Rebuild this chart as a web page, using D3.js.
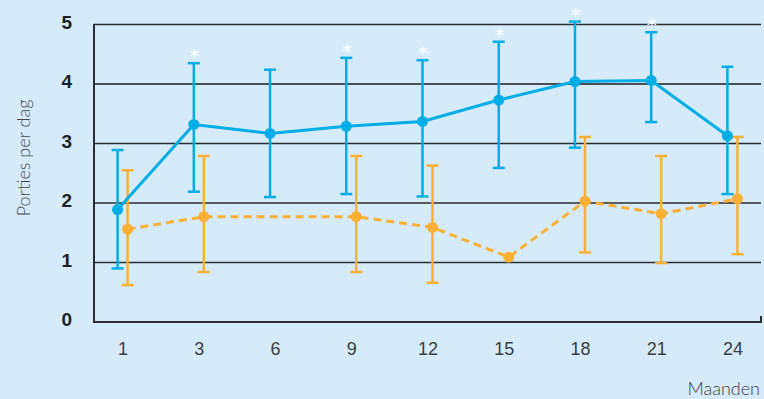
<!DOCTYPE html>
<html>
<head>
<meta charset="utf-8">
<script src="https://cdn.jsdelivr.net/npm/d3@7"></script>
<style>
  html, body { margin: 0; padding: 0; background: #d5ebf9; }
  svg { display: block; font-family: "Lato", "Open Sans", "DejaVu Sans", sans-serif; }
</style>
</head>
<body>
<svg id="chart" width="764" height="399"></svg>
<script>
// Months of follow-up
const months = ["1", "3", "6", "9", "12", "15", "18", "21", "24"];

// Blue series: mean portions per day with upper/lower bounds
const blueMean = [1.89, 3.32, 3.17, 3.29, 3.37, 3.73, 4.04, 4.06, 3.13];
const blueHigh = [2.89, 4.35, 4.24, 4.44, 4.40, 4.71, 5.05, 4.87, 4.29];
const blueLow  = [0.90, 2.19, 2.10, 2.15, 2.11, 2.59, 2.93, 3.36, 2.15];
// Significance markers above the blue bars
const blueSignif = [false, true, false, true, true, true, true, true, false];

// Orange series (no measurement at month 6; no spread at month 15)
const orangeMean = [1.56, 1.77, null, 1.77, 1.59, 1.09, 2.03, 1.82, 2.07];
const orangeHigh = [2.55, 2.79, null, 2.79, 2.63, null, 3.11, 2.79, 3.11];
const orangeLow  = [0.62, 0.84, null, 0.84, 0.66, null, 1.17, 0.99, 1.14];

const yTicks = [0, 1, 2, 3, 4, 5];

const blue = "#00ade6";
const orange = "#fbb034";

const svg = d3.select("#chart");
const plotLeft = 94, plotRight = 761, plotTop = 24.5, plotBottom = 322;

const x = d3.scalePoint().domain(months).range([plotLeft, plotRight]).padding(0.375);
const y = d3.scaleLinear().domain([0, 5]).range([plotBottom, plotTop]);

// Horizontal grid lines
svg.append("g")
  .selectAll("line")
  .data(yTicks.filter(d => d > 0))
  .join("line")
  .attr("x1", plotLeft).attr("x2", plotRight)
  .attr("y1", d => y(d)).attr("y2", d => y(d))
  .attr("stroke", d => d === 4 ? "#4a4f55" : "#2a2d31")
  .attr("stroke-width", d => d === 4 ? 2 : 1.5);

// Axes frame: left and bottom, with a small end tick on the right
svg.append("path")
  .attr("d", `M${plotLeft},${plotTop - 0.5}V${plotBottom}H${plotRight}V${plotBottom - 6}`)
  .attr("fill", "none")
  .attr("stroke", "#2a2d31")
  .attr("stroke-width", 2);

// Y tick labels
const yAxis = d3.axisLeft(y).tickValues(yTicks).tickFormat(d3.format("d"))
  .tickSize(0).tickPadding(22);
const gy = svg.append("g").attr("transform", `translate(${plotLeft},0)`).call(yAxis);
gy.select(".domain").remove();
gy.selectAll("text")
  .attr("dy", "0.2em")
  .style("font-size", "19px")
  .style("font-weight", "700")
  .style("fill", "#1d1f22");

// X tick labels
const xAxis = d3.axisBottom(x).tickSize(0).tickPadding(20);
const gx = svg.append("g").attr("transform", `translate(0,${plotBottom})`).call(xAxis);
gx.select(".domain").remove();
gx.selectAll("text")
  .style("font-size", "18px")
  .style("font-weight", "300")
  .style("fill", "#3a3d41");

// Axis titles
svg.append("text")
  .attr("transform", `translate(30,158) rotate(-90)`)
  .attr("text-anchor", "middle")
  .style("font-size", "18px")
  .style("font-weight", "300")
  .style("fill", "#44484c")
  .text("Porties per dag");

svg.append("text")
  .attr("x", 760).attr("y", 395)
  .attr("text-anchor", "end")
  .style("font-size", "18px")
  .style("font-weight", "300")
  .style("fill", "#3a3d41")
  .text("Maanden");

function drawSeries(means, highs, lows, color, offset, dashed) {
  const pts = months.map((m, i) => ({
    m, i, mean: means[i], hi: highs[i], lo: lows[i], cx: x(m) + offset
  }));
  const g = svg.append("g");

  // error bars
  const eb = pts.filter(p => p.hi != null && p.lo != null);
  g.selectAll(".bar").data(eb).join("line")
    .attr("x1", p => p.cx).attr("x2", p => p.cx)
    .attr("y1", p => y(p.hi)).attr("y2", p => y(p.lo))
    .attr("stroke", color).attr("stroke-width", 2.5);
  ["hi", "lo"].forEach(k => {
    g.selectAll(".cap-" + k).data(eb).join("line")
      .attr("x1", p => p.cx - 6).attr("x2", p => p.cx + 6)
      .attr("y1", p => y(p[k])).attr("y2", p => y(p[k]))
      .attr("stroke", color).attr("stroke-width", 2.5);
  });

  // connecting line (skips missing points)
  const valid = pts.filter(p => p.mean != null);
  const line = d3.line().x(p => p.cx).y(p => y(p.mean));
  g.append("path")
    .datum(valid)
    .attr("d", line)
    .attr("fill", "none")
    .attr("stroke", color)
    .attr("stroke-width", 3)
    .attr("stroke-dasharray", dashed ? "8,5" : null);

  g.selectAll("circle").data(valid).join("circle")
    .attr("cx", p => p.cx).attr("cy", p => y(p.mean))
    .attr("r", 5.5).attr("fill", color);
  return pts;
}

drawSeries(orangeMean, orangeHigh, orangeLow, orange, 5, true);
const bluePts = drawSeries(blueMean, blueHigh, blueLow, blue, -5, false);

// Significance asterisks, centred about 11px above the upper cap
const starSize = 20;
svg.append("g").selectAll("text")
  .data(bluePts.filter(p => blueSignif[p.i]))
  .join("text")
  .attr("x", p => p.cx + 0.5)
  .attr("y", p => y(p.hi) - 11 + 0.55 * starSize)
  .attr("text-anchor", "middle")
  .style("font-family", "'DejaVu Sans', sans-serif")
  .style("font-size", starSize + "px")
  .style("fill", "#ffffff")
  .text("*");
</script>
</body>
</html>
